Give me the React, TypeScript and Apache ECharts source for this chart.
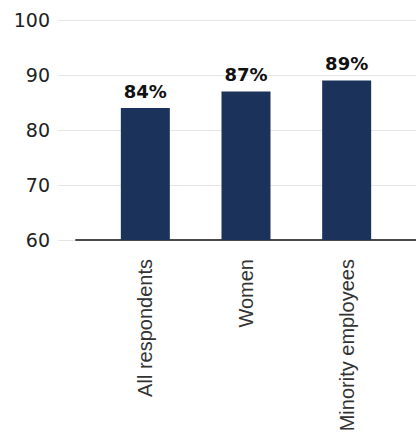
import React, { useEffect, useRef } from "react";
import * as echarts from "echarts";

const categories = ["All respondents", "Women", "Minority employees"];
const values = [84, 87, 89];
const yMin = 60;
const yMax = 100;
const yInterval = 10;

export default function App() {
  const ref = useRef<HTMLDivElement>(null);
  useEffect(() => {
    if (!ref.current) return;
    const chart = echarts.init(ref.current, undefined, { renderer: "svg" });
    const top = 20;
    const bottom = 196;
    chart.setOption({
      animation: false,
      grid: [
        { left: 58, right: 0, top, bottom, outerBoundsMode: "none" },
        { left: 95, width: 302, top, bottom, outerBoundsMode: "none" },
        { left: 76, right: 0, top, bottom, outerBoundsMode: "none" },
      ],
      xAxis: [
        { gridIndex: 0, type: "value", show: false },
        {
          gridIndex: 1,
          type: "category",
          data: categories,
          axisLine: { show: false },
          axisTick: { show: false },
          axisLabel: {
            rotate: 90,
            margin: 19,
            color: "#333",
            fontSize: 20,
            fontFamily: "Liberation Sans, Arial, sans-serif",
          },
        },
        {
          gridIndex: 2,
          type: "value",
          axisLine: { show: true, onZero: false, lineStyle: { color: "#4a4a4a", width: 2 } },
          axisTick: { show: false },
          axisLabel: { show: false },
          splitLine: { show: false },
        },
      ],
      yAxis: [
        {
          gridIndex: 0,
          type: "value",
          min: yMin,
          max: yMax,
          interval: yInterval,
          axisLine: { show: false },
          axisTick: { show: false },
          axisLabel: {
            margin: 8,
            color: "#222",
            fontSize: 19,
            fontFamily: "DejaVu Sans, sans-serif",
          },
          splitLine: { show: true, lineStyle: { color: "#e6e6e6", width: 1 } },
        },
        { gridIndex: 1, type: "value", min: yMin, max: yMax, interval: yInterval, show: false },
        { gridIndex: 2, type: "value", min: yMin, max: yMax, interval: yInterval, show: false },
      ],
      series: [
        {
          type: "bar",
          xAxisIndex: 1,
          yAxisIndex: 1,
          data: values,
          barWidth: 49,
          itemStyle: { color: "#1b335b" },
          label: {
            show: true,
            position: "top",
            distance: 8,
            formatter: "{c}%",
            color: "#111",
            fontSize: 18,
            fontWeight: "bold",
            fontFamily: "DejaVu Sans, sans-serif",
          },
        },
      ],
    });
    return () => chart.dispose();
  }, []);
  return (
    <div
      ref={ref}
      style={{ position: "fixed", left: 0, top: 0, width: 416, height: 436, background: "#fff" }}
    />
  );
}
